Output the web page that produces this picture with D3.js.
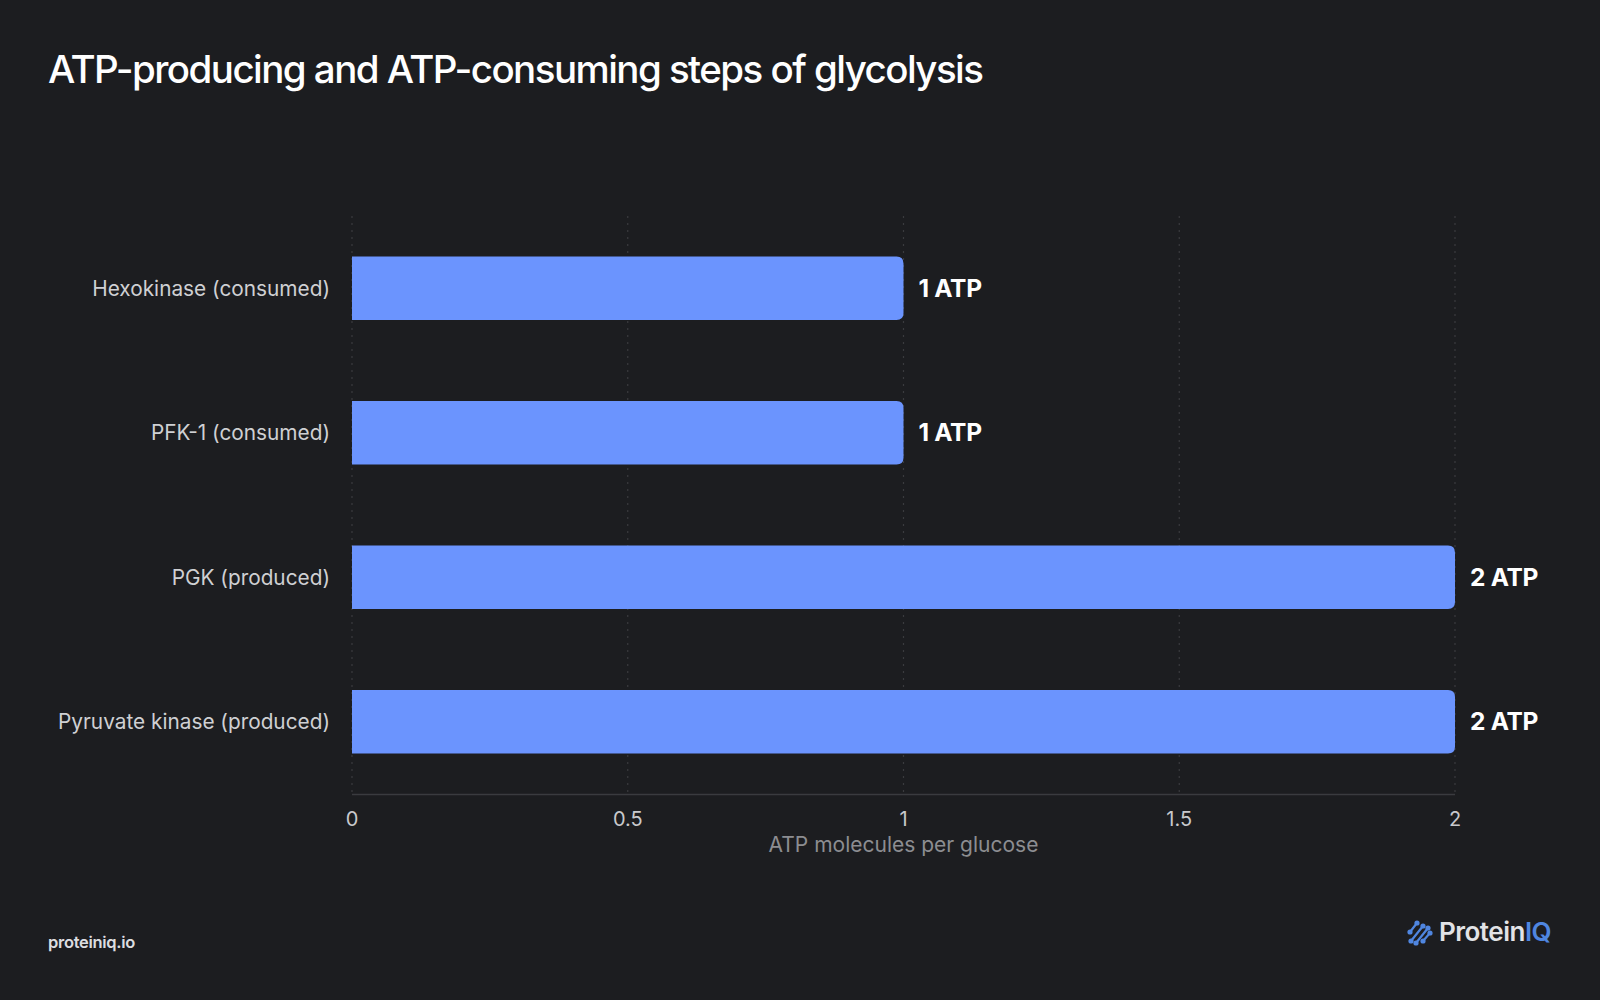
<!DOCTYPE html>
<html>
<head>
<meta charset="utf-8">
<script src="https://cdn.jsdelivr.net/npm/d3@7"></script>
<style>
  html, body { margin: 0; padding: 0; background: #1c1d20; }
  svg { display: block; }
  text { font-family: Inter, "Noto Sans", sans-serif; }
</style>
</head>
<body>
<svg id="chart" width="1600" height="1000"></svg>
<script>
const categories = ["Hexokinase (consumed)", "PFK-1 (consumed)", "PGK (produced)", "Pyruvate kinase (produced)"];
const values = [1, 1, 2, 2];
const valueLabels = ["1 ATP", "1 ATP", "2 ATP", "2 ATP"];
const xTicks = [0, 0.5, 1, 1.5, 2];
const xTickLabels = ["0", "0.5", "1", "1.5", "2"];
const titleText = "ATP-producing and ATP-consuming steps of glycolysis";
const xAxisTitle = "ATP molecules per glucose";

const svg = d3.select("#chart");
svg.append("rect").attr("width", 1600).attr("height", 1000).attr("fill", "#1c1d20");

const margin = { left: 352, right: 1455, top: 216, bottom: 794 };
const x = d3.scaleLinear().domain([0, 2]).range([margin.left, margin.right]);
const y = d3.scaleBand().domain(categories).range([margin.top, margin.bottom])
  .paddingInner(0.56).paddingOuter(0.28);

// title
svg.append("text").attr("x", 48).attr("y", 83)
  .attr("fill", "#ffffff").attr("font-size", 38.5).attr("font-weight", 500)
  .attr("letter-spacing", -1.55)
  .text(titleText);

// grid lines
svg.append("g").selectAll("line").data(xTicks).join("line")
  .attr("x1", d => x(d)).attr("x2", d => x(d))
  .attr("y1", margin.top).attr("y2", margin.bottom)
  .attr("stroke", "#3a3b3f").attr("stroke-width", 1.2)
  .attr("stroke-dasharray", "2,5");

// axis baseline
svg.append("line").attr("x1", margin.left).attr("x2", margin.right)
  .attr("y1", margin.bottom + 0.5).attr("y2", margin.bottom + 0.5)
  .attr("stroke", "#3a3b3f").attr("stroke-width", 1.5);

// bars (square left, rounded right)
const r = 7;
function barPath(x0, x1, y0, h) {
  const rr = Math.min(r, (x1 - x0) / 2, h / 2);
  return `M${x0},${y0}H${x1 - rr}Q${x1},${y0} ${x1},${y0 + rr}V${y0 + h - rr}Q${x1},${y0 + h} ${x1 - rr},${y0 + h}H${x0}Z`;
}
svg.append("g").selectAll("path").data(categories).join("path")
  .attr("d", (c, i) => barPath(x(0), x(values[i]), y(c), y.bandwidth()))
  .attr("fill", "#6b94fe");

// value labels
svg.append("g").selectAll("text").data(categories).join("text")
  .attr("x", (c, i) => x(values[i]) + 15)
  .attr("y", c => y(c) + y.bandwidth() / 2)
  .attr("dy", "0.35em")
  .attr("fill", "#ffffff").attr("font-size", 24.5).attr("font-weight", 700)
  .attr("letter-spacing", -0.3)
  .text((c, i) => valueLabels[i]);

// category labels
svg.append("g").selectAll("text").data(categories).join("text")
  .attr("x", 330)
  .attr("y", c => y(c) + y.bandwidth() / 2)
  .attr("dy", "0.35em")
  .attr("text-anchor", "end")
  .attr("fill", "#cfd0d3").attr("font-size", 20.8)
  .text(c => c);

// tick labels
svg.append("g").selectAll("text").data(xTicks).join("text")
  .attr("x", d => x(d)).attr("y", 826)
  .attr("text-anchor", "middle")
  .attr("fill", "#c8c9cc").attr("font-size", 20)
  .text((d, i) => xTickLabels[i]);

// axis title
svg.append("text").attr("x", (margin.left + margin.right) / 2).attr("y", 852)
  .attr("text-anchor", "middle")
  .attr("fill", "#8c8d91").attr("font-size", 21)
  .text(xAxisTitle);

// footer
svg.append("text").attr("x", 48).attr("y", 948)
  .attr("fill", "#dcdde0").attr("font-size", 16.5).attr("font-weight", 600)
  .attr("letter-spacing", -0.3)
  .text("proteiniq.io");

// logo icon
const logo = svg.append("g").attr("transform", "translate(1420,932)");
const segs = [[-10, 0, -3, -9], [-9, 9, 3, -6], [-4, 11, 8, -4], [3, 9, 10, 1]];
segs.forEach(s => {
  logo.append("line").attr("x1", s[0]).attr("y1", s[1]).attr("x2", s[2]).attr("y2", s[3])
    .attr("stroke", "#4f86e0").attr("stroke-width", 2.2).attr("stroke-linecap", "round");
  logo.append("circle").attr("cx", s[0]).attr("cy", s[1]).attr("r", 2.6).attr("fill", "#4f86e0");
  logo.append("circle").attr("cx", s[2]).attr("cy", s[3]).attr("r", 2.6).attr("fill", "#4f86e0");
});
const logoText = svg.append("text").attr("x", 1439).attr("y", 941)
  .attr("font-size", 26).attr("font-weight", 600).attr("letter-spacing", -0.5);
logoText.append("tspan").attr("fill", "#e2e3e6").text("Protein");
logoText.append("tspan").attr("fill", "#4f86e0").text("IQ");
</script>
</body>
</html>
